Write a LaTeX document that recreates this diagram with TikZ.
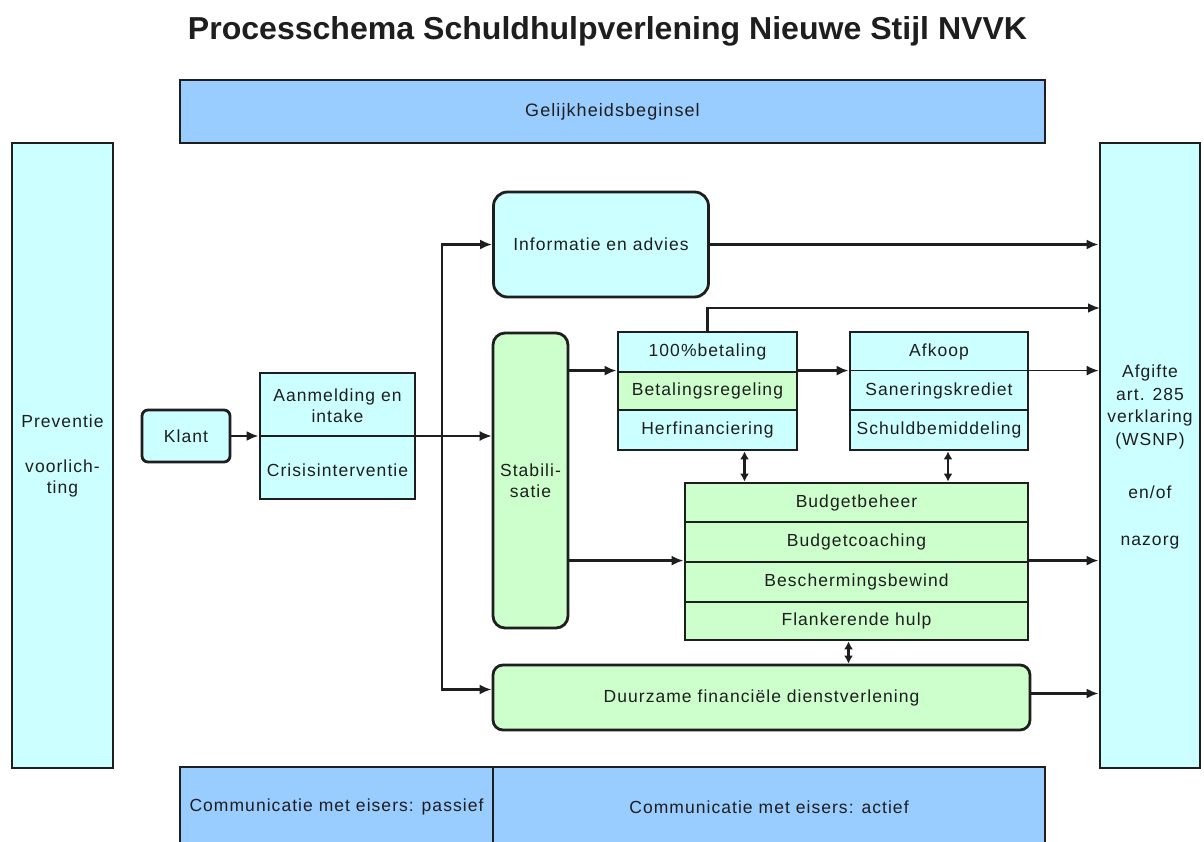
\documentclass[tikz,border=0pt]{standalone}
\usepackage{fontspec}
\usepackage{graphicx}
\setmainfont[LetterSpace=6]{Liberation Sans}
\newfontfamily\titlefont{Liberation Sans}
\usetikzlibrary{arrows.meta,calc}
\definecolor{cyanfill}{RGB}{204,255,255}
\definecolor{greenfill}{RGB}{204,255,204}
\definecolor{bluefill}{RGB}{153,204,255}
\definecolor{inkcol}{RGB}{30,30,30}
\tikzset{
  box/.style={draw=inkcol, line width=2.8pt, inner sep=0pt, align=center, font=\fontsize{17.5}{21}\selectfont, text=inkcol},
  cbox/.style={box, fill=cyanfill},
  gbox/.style={box, fill=greenfill},
  bbox/.style={box, fill=bluefill, line width=2.2pt},
  txt/.style={inner sep=0pt, align=center, font=\fontsize{17.5}{21}\selectfont, text=inkcol},
  conn/.style={draw=inkcol, line width=2.8pt, -{Latex[length=12pt,width=10pt]}},
  thinconn/.style={draw=inkcol, line width=1.5pt, -{Latex[length=12pt,width=10pt]}},
  dbl/.style={draw=inkcol, line width=2.8pt, {Latex[length=8pt,width=9pt]}-{Latex[length=8pt,width=9pt]}},
}
\begin{document}
\begin{tikzpicture}[x=1pt,y=-1pt]
\useasboundingbox (0,0) rectangle (1204,842);
\fill[white] (0,0) rectangle (1204,842);

% title
\node[inner sep=0pt, anchor=base, text=inkcol] (title) at (607.5,40) {\resizebox{839pt}{23pt}{\titlefont\bfseries Processchema Schuldhulpverlening Nieuwe Stijl NVVK}};

% top band
\node[bbox, minimum width=865pt, minimum height=63pt, font=\fontsize{18}{21}\selectfont] (gelijk) at (612.5,111.5) {Gelijkheidsbeginsel};

% side columns
\node[cbox, minimum width=101pt, minimum height=625pt] (prev) at (62.5,455.5) {Preventie\\[24pt]voorlich-\\ting};
\node[cbox, minimum width=100pt, minimum height=625pt, font=\fontsize{17.5}{22.5}\selectfont] (right) at (1150,455.5) {};
\node[txt, font=\fontsize{17.5}{22.5}\selectfont] (righttxt) at (1150,457) {Afgifte\\art. 285\\verklaring\\(WSNP)\\[31pt]en/of\\[24pt]nazorg};

% klant and intake
\node[cbox, rounded corners=6pt, minimum width=88pt, minimum height=52pt] (klant) at (186,436) {Klant};
\node[cbox, minimum width=155pt, minimum height=126pt] (aanm) at (337.5,436) {};
\node[txt] (aanmtxt) at (337.5,406) {Aanmelding en\\intake};
\node[txt] (crisis) at (337.5,470) {Crisisinterventie};

% informatie
\node[cbox, rounded corners=14pt, minimum width=215pt, minimum height=105pt] (info) at (601,244.5) {Informatie en advies};

% stabilisatie
\node[gbox, rounded corners=12pt, minimum width=75pt, minimum height=295pt] (stab) at (530.5,480.5) {Stabili-\\satie};

% betaling block
\node[cbox, minimum width=179pt, minimum height=40pt] (bet1) at (707.5,352) {100\%betaling};
\node[gbox, minimum width=179pt, minimum height=38pt] (bet2) at (707.5,391) {Betalingsregeling};
\node[cbox, minimum width=179pt, minimum height=40pt] (bet3) at (707.5,430) {Herfinanciering};

% afkoop block
\node[cbox, minimum width=178pt, minimum height=78pt] (afk) at (939,371) {};
\node[txt] (afk1) at (939,352) {Afkoop};
\node[txt] (afk2) at (939,391) {Saneringskrediet};
\node[cbox, minimum width=178pt, minimum height=40pt] (afk3) at (939,430) {Schuldbemiddeling};

% budget block
\node[gbox, minimum width=343pt, minimum height=39pt] (bud1) at (856.5,502.5) {Budgetbeheer};
\node[gbox, minimum width=343pt, minimum height=40pt] (bud2) at (856.5,542) {Budgetcoaching};
\node[gbox, minimum width=343pt, minimum height=40pt] (bud3) at (856.5,582) {Beschermingsbewind};
\node[gbox, minimum width=343pt, minimum height=38pt] (bud4) at (856.5,621) {Flankerende hulp};

% duurzame
\node[gbox, rounded corners=10pt, minimum width=537pt, minimum height=65pt] (duur) at (761.5,697.5) {Duurzame financi\"ele dienstverlening};

% bottom band
\node[bbox, minimum width=313pt, minimum height=80pt] (pass) at (336.5,807) {Communicatie met eisers: passief};
\node[bbox, minimum width=552pt, minimum height=80pt] (act) at (769,807) {Communicatie met eisers: actief};

% connectors
\coordinate (split) at (442,436);
\coordinate (hi) at (1100,308);
\draw[conn] (klant.east) -- (aanm.west);
\draw[thinconn] (aanm.west) -- (aanm.west -| stab.west);
\draw[conn] (split) |- (info.west);
\draw[conn] (split) |- ([yshift=8pt]duur.west);
\draw[conn] (info.east) -- (info.east -| right.west);
\draw[conn] (bet1.north) |- (hi);
\draw[conn] (stab.east |- bet2.north) -- (bet2.north west);
\draw[conn] (bet2.north east) -- (bet2.north east -| afk.west);
\draw[thinconn] (bet2.north east -| afk.west) -- (bet2.north east -| right.west);
\draw[conn] (stab.east |- bud3.north) -- (bud3.north west);
\draw[conn] (bud3.north east) -- (bud3.north east -| right.west);
\draw[conn] ([yshift=4pt]duur.east) -- ([yshift=4pt]duur.east -| right.west);
\draw[dbl] ([xshift=37pt]bet3.south) -- ([xshift=37pt]bet3.south |- bud1.north);
\draw[dbl] ([xshift=9pt]afk3.south) -- ([xshift=9pt]afk3.south |- bud1.north);
\draw[dbl] ([xshift=-8pt]bud4.south) -- ([xshift=-8pt]bud4.south |- duur.north);
\end{tikzpicture}
\end{document}
